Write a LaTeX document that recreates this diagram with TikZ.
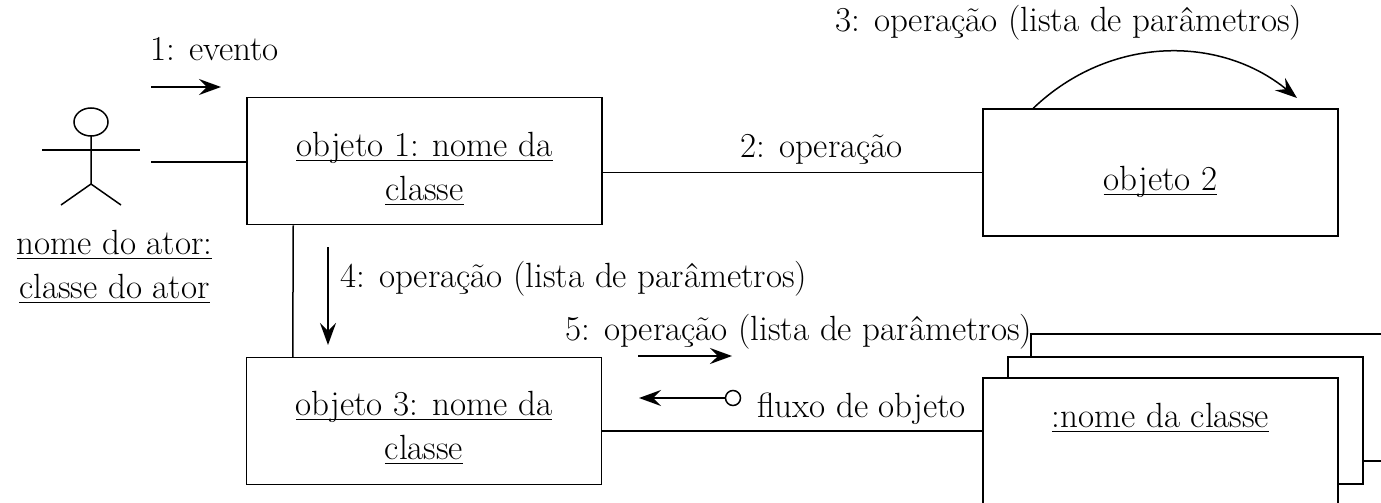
\documentclass[tikz,border=0pt]{standalone}
\usepackage{amsmath}
\usetikzlibrary{arrows.meta,positioning,calc}

\newcommand{\objname}[1]{\underline{\smash[b]{#1}}}

\begin{document}
\begin{tikzpicture}[x=1pt,y=-1pt,
        every node/.style={font=\fontsize{35}{44}\selectfont, inner sep=0pt},
        objbox/.style={draw, line width=1.5pt, fill=white,
                       minimum width=355pt, minimum height=127pt},
        objtext/.style={align=center},
        msg/.style={-{Stealth[length=22pt,width=16pt,inset=8pt]}, line width=1.5pt},
        link/.style={line width=1.5pt}]
    \useasboundingbox (0,0) rectangle (1381,503);
    \clip (0,0) rectangle (1381,503);

    % actor
    \draw[link] (91,122) ellipse [x radius=17pt, y radius=14pt];
    \draw[link] (42,150) -- (140,150);
    \draw[link] (91,136) -- (91,184) -- (61,205);
    \draw[link] (91,184) -- (121,205);
    \node[objtext] (actorname) at (114.5,267) {\objname{nome do ator:}\\\objname{classe do ator}};
    \coordinate (actor) at (151,162);

    % objects
    \node[objbox] (obj1) at (424.5,161) {};
    \node[objtext] (obj1name) at (424.5,169) {\objname{objeto 1: nome da}\\\objname{classe}};
    \node[objbox] (obj2) at (1160.5,172.5) {};
    \node[objtext] (obj2name) at (1160.5,181) {\objname{objeto 2}};
    \node[objbox] (obj3) at (424,421) {};
    \node[objtext] (obj3name) at (424,428) {\objname{objeto 3: nome da}\\\objname{classe}};

    % multi-object
    \node[objbox] (multi3) at (1208.5,397.5) {};
    \node[objbox] (multi2) at (1185.5,420.5) {};
    \node[objbox] (multi1) at (1160.5,441.5) {};
    \node[objtext] (multiname) at (1160.5,418) {\objname{:nome da classe}};

    % links
    \draw[link] (actor) -- (actor -| obj1.west);
    \draw[link] (obj2.west -| obj1.east) -- (obj2.west);
    \draw[link] ([xshift=47pt]obj1.south west) -- ([xshift=47pt]obj3.north west);
    \draw[link] ([yshift=-10pt]obj3.east) -- ([yshift=-10pt]obj3.east -| multi1.west);

    % messages
    \coordinate (m1a) at (151,87);
    \coordinate (m1b) at (221,87);
    \draw[msg] (m1a) -- (m1b);
    \node[anchor=base west] (m1label) at (150,60) {1: evento};

    \node[anchor=base west] (m2label) at (740,157) {2: operação};

    \coordinate (m3b) at (1297,98);
    \draw[msg] ([xshift=51pt]obj2.north west) .. controls (1110,35) and (1220,35) .. (m3b);
    \node[anchor=base west] (m3label) at (835,32) {3: operação (lista de parâmetros)};

    \coordinate (m4a) at (328,247);
    \coordinate (m4b) at (328,345);
    \draw[msg] (m4a) -- (m4b);
    \node[anchor=base west] (m4label) at (340,287) {4: operação (lista de parâmetros)};

    \coordinate (m5a) at (638,356);
    \coordinate (m5b) at (732,356);
    \draw[msg] (m5a) -- (m5b);
    \node[anchor=base west] (m5label) at (565,340) {5: operação (lista de parâmetros)};

    \node[draw, circle, line width=1.5pt, minimum size=15pt] (fluxo) at (733,398) {};
    \coordinate (m6b) at (639,398);
    \draw[msg] (fluxo.west) -- (m6b);
    \node[anchor=base west] (fluxolabel) at (757,417) {fluxo de objeto};
\end{tikzpicture}
\end{document}
